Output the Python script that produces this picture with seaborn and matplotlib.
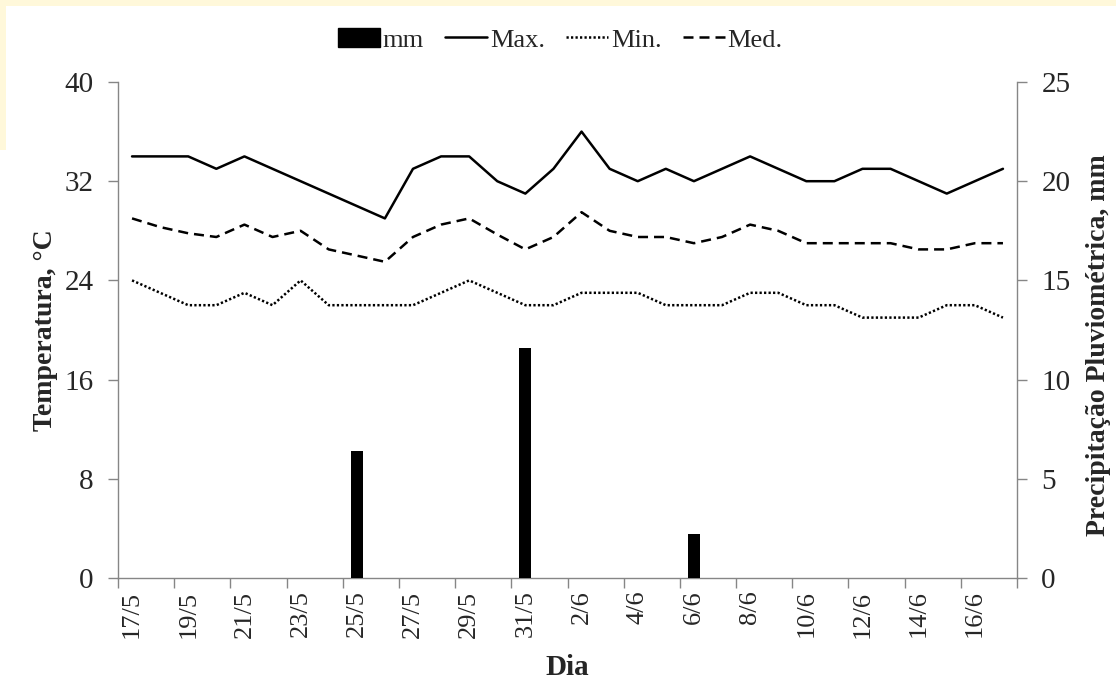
import matplotlib
matplotlib.use('Agg')
import matplotlib.pyplot as plt
import seaborn as sns
import numpy as np
import pandas as pd
from matplotlib.patches import Rectangle
from matplotlib.lines import Line2D

days = ["17/5", "18/5", "19/5", "20/5", "21/5", "22/5", "23/5", "24/5", "25/5", "26/5",
        "27/5", "28/5", "29/5", "30/5", "31/5", "1/6", "2/6", "3/6", "4/6", "5/6",
        "6/6", "7/6", "8/6", "9/6", "10/6", "11/6", "12/6", "13/6", "14/6", "15/6",
        "16/6", "17/6"]
t_max = [34, 34, 34, 33, 34, 33, 32, 31, 30, 29, 33, 34, 34, 32, 31, 33, 36,
         33, 32, 33, 32, 33, 34, 33, 32, 32, 33, 33, 32, 31, 32, 33]
t_min = [24, 23, 22, 22, 23, 22, 24, 22, 22, 22, 22, 23, 24, 23, 22, 22, 23,
         23, 23, 22, 22, 22, 23, 23, 22, 22, 21, 21, 21, 22, 22, 21]
t_med = [29, 28.3, 27.8, 27.5, 28.5, 27.5, 28, 26.5, 26, 25.5, 27.5, 28.5, 29, 27.7, 26.5, 27.5, 29.5,
         28, 27.5, 27.5, 27, 27.5, 28.5, 28, 27, 27, 27, 27, 26.5, 26.5, 27, 27]
rain_mm = [0, 0, 0, 0, 0, 0, 0, 0, 6.4, 0, 0, 0, 0, 0, 11.6, 0,
           0, 0, 0, 0, 2.2, 0, 0, 0, 0, 0, 0, 0, 0, 0, 0, 0]

df = pd.DataFrame({"Dia": days, "pos": np.arange(len(days)), "Max": t_max,
                   "Min": t_min, "Med": t_med, "mm": rain_mm})

sns.set_theme(style="white")
plt.rcParams['font.family'] = ['Liberation Serif', 'DejaVu Serif']

fig = plt.figure(figsize=(11.16, 6.82), dpi=100, facecolor='white')
ax = fig.add_axes([118/1116, 1 - 578/682, (1017-118)/1116, (578-82)/682])
ax2 = ax.twinx()

# decorative cream frame
fig.patches.append(Rectangle((0, 1 - 6/682), 1, 6/682, transform=fig.transFigure,
                             facecolor='#FFF8DA', edgecolor='none', zorder=-5))
fig.patches.append(Rectangle((0, 1 - 150/682), 6/1116, 150/682, transform=fig.transFigure,
                             facecolor='#FFF8DA', edgecolor='none', zorder=-5))

sns.barplot(data=df, x="Dia", y="mm", ax=ax2, color='black', width=0.43,
            errorbar=None, linewidth=0, saturation=1)

lw = 1.8
dot = (0, (0.9, 0.9))
dash = (0, (4.0, 2.4))
sns.lineplot(data=df, x="pos", y="Max", ax=ax, color='black', lw=lw, linestyle='-')
sns.lineplot(data=df, x="pos", y="Min", ax=ax, color='black', lw=lw, linestyle=dot)
sns.lineplot(data=df, x="pos", y="Med", ax=ax, color='black', lw=lw, linestyle=dash)

gray = '#868686'
ax.set_xlim(-0.5, len(days) - 0.5)
ax.set_ylim(0, 40)
ax2.set_ylim(0, 25)
ax.set_yticks(np.arange(0, 41, 8))
ax2.set_yticks(np.arange(0, 26, 5))

ax.set_xticks(np.arange(-0.5, len(days), 2))
ax.set_xticklabels([])
ax.set_xticks(np.arange(0, len(days), 2), minor=True)
ax.set_xticklabels(days[::2], minor=True, rotation=90, fontsize=19)
ax.tick_params(axis='x', which='major', direction='out', length=7.5, color=gray, width=1, bottom=True)
ax.tick_params(axis='x', which='minor', length=0, pad=9, bottom=True)
ax.tick_params(axis='y', direction='out', length=7.5, color=gray, width=1, labelsize=21, left=True, pad=10)
ax2.tick_params(axis='y', direction='out', length=7.5, color=gray, width=1, labelsize=21, right=True, pad=10)

ax.spines['top'].set_visible(False)
ax2.spines['top'].set_visible(False)
ax.spines['right'].set_visible(False)
ax2.spines['left'].set_visible(False)
ax2.spines['bottom'].set_visible(False)
for a, s in [(ax, 'left'), (ax, 'bottom'), (ax2, 'right')]:
    a.spines[s].set_color(gray)
    a.spines[s].set_linewidth(1)

ax.set_ylabel("Temperatura, °C", fontsize=20, fontweight='bold', labelpad=5)
ax2.set_ylabel("Precipitação Pluviométrica, mm", fontsize=20, fontweight='bold')
ax2.yaxis.set_label_coords(1.077, 0.47)
ax.set_xlabel("Dia", fontsize=21, fontweight='bold', labelpad=12)

handles = [Rectangle((0, 0), 1, 1, facecolor='black', edgecolor='black'),
           Line2D([], [], color='black', lw=lw, linestyle='-'),
           Line2D([], [], color='black', lw=lw, linestyle=dot),
           Line2D([], [], color='black', lw=lw, linestyle=dash)]
fig.legend(handles, ["mm", "Max.", "Min.", "Med."], loc='center',
           bbox_to_anchor=(0.502, 1 - 40/682), ncol=4, frameon=False, fontsize=19,
           handlelength=1.6, handletextpad=0.1, columnspacing=0.8)

fig.savefig("out.png", dpi=100, facecolor='white')
